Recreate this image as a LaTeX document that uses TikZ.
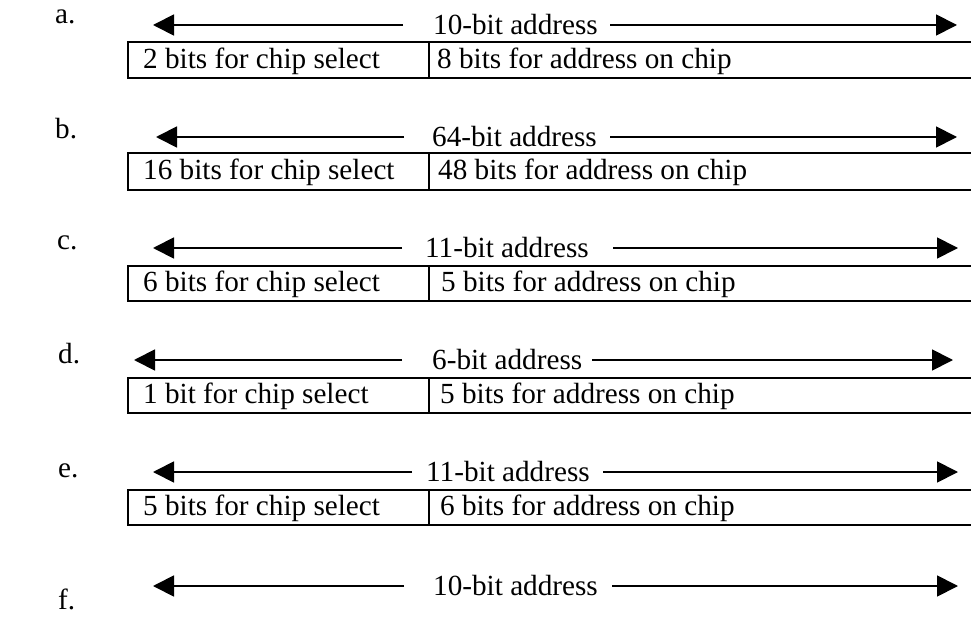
\documentclass[tikz,border=0pt]{standalone}
\usepackage{fontspec}
\setmainfont{Liberation Serif}
\usetikzlibrary{arrows.meta}
\begin{document}
\begin{tikzpicture}[x=1pt,y=-1pt,
  txt/.style={inner sep=0pt,anchor=base west,font=\fontsize{29.2}{34}\selectfont},
  arr/.style={line width=1.8pt,-{Triangle[length=21pt,width=21pt]}},
  boxline/.style={line width=2.4pt},
  divline/.style={line width=2pt}]
\useasboundingbox (0,0) rectangle (971,620);
\clip (0,0) rectangle (971,620);

% ---- row a ----
\node[txt] (la) at (55,24) {a.};
\node[txt] (ta) at (433,34.5) {10-bit address};
\coordinate (aL) at (153,25); \coordinate (aLe) at (403,25);
\coordinate (aR) at (957,25); \coordinate (aRs) at (610,25);
\draw[arr] (aLe) -- (aL);
\draw[arr] (aRs) -- (aR);
\draw[boxline] (980,42) -- (128,42) -- (128,78) -- (980,78);
\draw[divline] (429,42) -- (429,78);
\node[txt] (a1) at (143,68.5) {2 bits for chip select};
\node[txt] (a2) at (437,68.5) {8 bits for address on chip};

% ---- row b ----
\node[txt] (lb) at (55,139) {b.};
\node[txt] (tb) at (432,146.5) {64-bit address};
\coordinate (bL) at (156,137); \coordinate (bLe) at (404,137);
\coordinate (bR) at (957,137); \coordinate (bRs) at (610,137);
\draw[arr] (bLe) -- (bL);
\draw[arr] (bRs) -- (bR);
\draw[boxline] (980,153) -- (128,153) -- (128,190) -- (980,190);
\draw[divline] (429,153) -- (429,190);
\node[txt] (b1) at (143,180) {16 bits for chip select};
\node[txt] (b2) at (438,180) {48 bits for address on chip};

% ---- row c ----
\node[txt] (lc) at (57,250) {c.};
\node[txt] (tc) at (425,257.5) {11-bit address};
\coordinate (cL) at (153,248); \coordinate (cLe) at (402,248);
\coordinate (cR) at (958,248); \coordinate (cRs) at (613,248);
\draw[arr] (cLe) -- (cL);
\draw[arr] (cRs) -- (cR);
\draw[boxline] (980,266) -- (128,266) -- (128,301) -- (980,301);
\draw[divline] (429,266) -- (429,301);
\node[txt] (c1) at (143,291.5) {6 bits for chip select};
\node[txt] (c2) at (441,291.5) {5 bits for address on chip};

% ---- row d ----
\node[txt] (ld) at (58,363) {d.};
\node[txt] (td) at (432,369.5) {6-bit address};
\coordinate (dL) at (134,360); \coordinate (dLe) at (402,360);
\coordinate (dR) at (953,360); \coordinate (dRs) at (592,360);
\draw[arr] (dLe) -- (dL);
\draw[arr] (dRs) -- (dR);
\draw[boxline] (980,378) -- (128,378) -- (128,413) -- (980,413);
\draw[divline] (429,378) -- (429,413);
\node[txt] (d1) at (143,403.5) {1 bit for chip select};
\node[txt] (d2) at (440,403.5) {5 bits for address on chip};

% ---- row e ----
\node[txt] (le) at (58,477) {e.};
\node[txt] (te) at (426,481.5) {11-bit address};
\coordinate (eL) at (153,472); \coordinate (eLe) at (412,472);
\coordinate (eR) at (958,472); \coordinate (eRs) at (603,472);
\draw[arr] (eLe) -- (eL);
\draw[arr] (eRs) -- (eR);
\draw[boxline] (980,490) -- (128,490) -- (128,525) -- (980,525);
\draw[divline] (429,490) -- (429,525);
\node[txt] (e1) at (143,515.5) {5 bits for chip select};
\node[txt] (e2) at (440,515.5) {6 bits for address on chip};

% ---- row f ----
\node[txt] (lf) at (58,609) {f.};
\node[txt] (tf) at (433,595.5) {10-bit address};
\coordinate (fL) at (153,586); \coordinate (fLe) at (404,586);
\coordinate (fR) at (958,586); \coordinate (fRs) at (612,586);
\draw[arr] (fLe) -- (fL);
\draw[arr] (fRs) -- (fR);
\end{tikzpicture}
\end{document}
